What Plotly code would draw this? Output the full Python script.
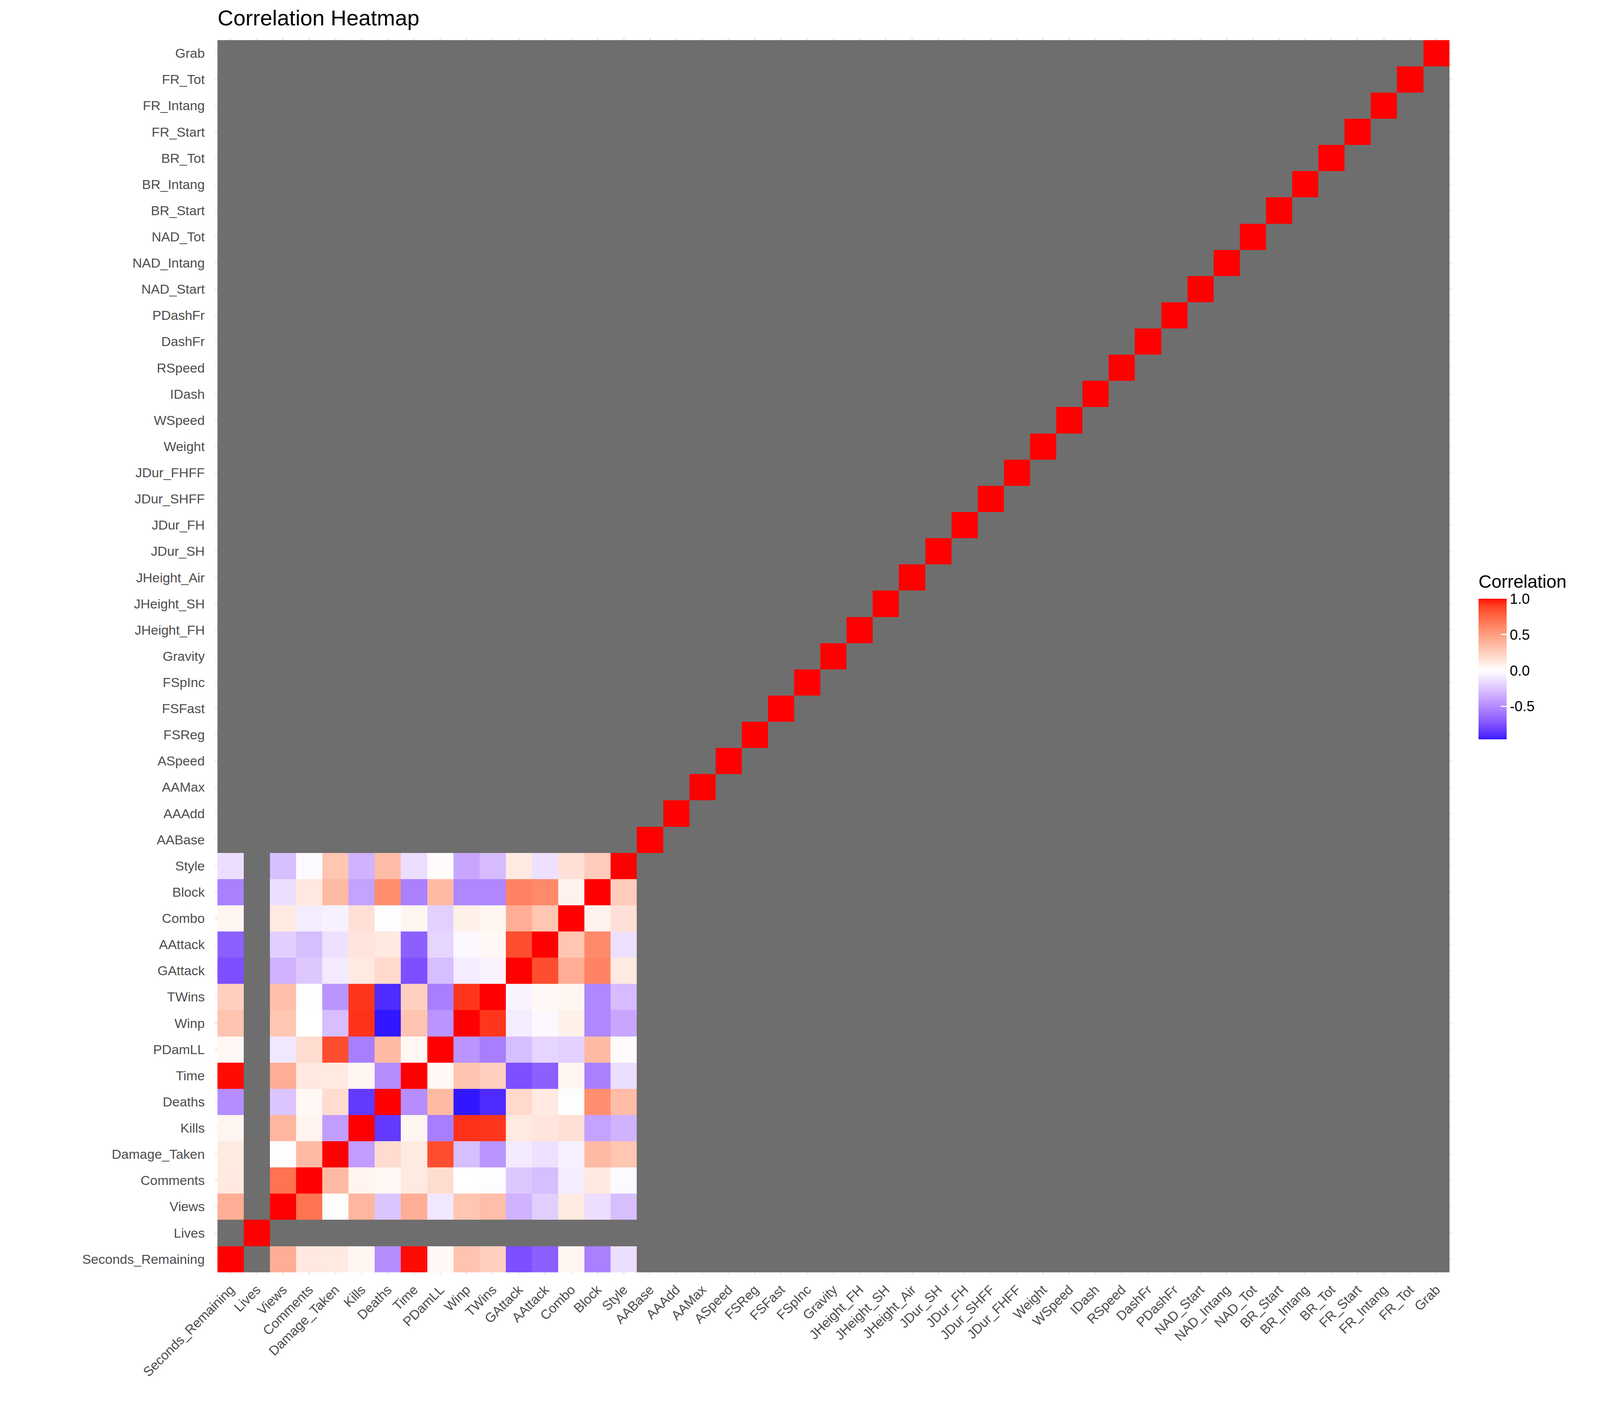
import numpy as np
import plotly.graph_objects as go

# ---------------- data ----------------
variables = [
    "Seconds_Remaining", "Lives", "Views", "Comments", "Damage_Taken", "Kills", "Deaths",
    "Time", "PDamLL", "Winp", "TWins", "GAttack", "AAttack", "Combo", "Block", "Style",
    "AABase", "AAAdd", "AAMax", "ASpeed", "FSReg", "FSFast", "FSpInc", "Gravity",
    "JHeight_FH", "JHeight_SH", "JHeight_Air", "JDur_SH", "JDur_FH", "JDur_SHFF", "JDur_FHFF",
    "Weight", "WSpeed", "IDash", "RSpeed", "DashFr", "PDashFr", "NAD_Start", "NAD_Intang",
    "NAD_Tot", "BR_Start", "BR_Intang", "BR_Tot", "FR_Start", "FR_Intang", "FR_Tot", "Grab",
]

# variables that have computable correlations with each other (Lives and the rest are NA)
core_vars = ["Seconds_Remaining", "Views", "Comments", "Damage_Taken", "Kills", "Deaths",
             "Time", "PDamLL", "Winp", "TWins", "GAttack", "AAttack", "Combo", "Block", "Style"]

# lower triangle: correlation of core_vars[i] with core_vars[0..i-1]
lower_triangle = [
    [0.42],
    [0.12, 0.70],
    [0.11, 0.01, 0.36],
    [0.05, 0.38, 0.06, -0.42],
    [-0.49, -0.25, 0.04, 0.18, -0.85],
    [0.99, 0.42, 0.12, 0.11, 0.05, -0.49],
    [0.04, -0.10, 0.18, 0.85, -0.56, 0.36, 0.04],
    [0.31, 0.30, 0.00, -0.28, 0.93, -0.96, 0.31, -0.46],
    [0.25, 0.34, -0.01, -0.46, 0.92, -0.90, 0.25, -0.56, 0.92],
    [-0.76, -0.33, -0.24, -0.09, 0.11, 0.20, -0.76, -0.28, -0.08, -0.05],
    [-0.69, -0.21, -0.28, -0.13, 0.14, 0.12, -0.69, -0.18, -0.03, 0.04, 0.85],
    [0.05, 0.11, -0.08, -0.06, 0.16, -0.01, 0.05, -0.20, 0.08, 0.05, 0.42, 0.30],
    [-0.55, -0.14, 0.12, 0.36, -0.40, 0.58, -0.55, 0.36, -0.52, -0.52, 0.63, 0.60, 0.07],
    [-0.14, -0.28, -0.02, 0.30, -0.33, 0.35, -0.14, 0.02, -0.38, -0.29, 0.11, -0.13, 0.16, 0.27],
]

legend_ticks = [-0.5, 0.0, 0.5, 1.0]
legend_tick_text = ["-0.5", "0.0", "0.5", "1.0"]

# ---------------- build matrix ----------------
n = len(variables)
idx = {v: i for i, v in enumerate(variables)}
corr = np.full((n, n), np.nan)
for i in range(n):
    corr[i, i] = 1.0
for i, row in enumerate(lower_triangle, start=1):
    for j, val in enumerate(row):
        a, b = idx[core_vars[i]], idx[core_vars[j]]
        corr[a, b] = val
        corr[b, a] = val

z_main = [[None if np.isnan(v) else float(v) for v in r] for r in corr]
z_na = [[1 if np.isnan(v) else None for v in r] for r in corr]

zmin = float(np.nanmin(corr))
zmax = float(np.nanmax(corr))

# ---------------- colour scale (ggplot gradient2, Lab interpolation) ----------------
WHITE_REF = (0.95047, 1.0, 1.08883)


def srgb_to_lab(rgb):
    c = np.array(rgb, dtype=float) / 255.0
    lin = np.where(c <= 0.04045, c / 12.92, ((c + 0.055) / 1.055) ** 2.4)
    M = np.array([[0.4124564, 0.3575761, 0.1804375],
                  [0.2126729, 0.7151522, 0.0721750],
                  [0.0193339, 0.1191920, 0.9503041]])
    xyz = M @ lin / np.array(WHITE_REF)
    f = np.where(xyz > 216 / 24389, np.cbrt(xyz), (24389 / 27 * xyz + 16) / 116)
    return np.array([116 * f[1] - 16, 500 * (f[0] - f[1]), 200 * (f[1] - f[2])])


def lab_to_srgb(lab):
    L, a, b = lab
    fy = (L + 16) / 116
    fx = fy + a / 500
    fz = fy - b / 200
    f = np.array([fx, fy, fz])
    xyz = np.where(f ** 3 > 216 / 24389, f ** 3, (116 * f - 16) / (24389 / 27)) * np.array(WHITE_REF)
    Minv = np.array([[3.2404542, -1.5371385, -0.4985314],
                     [-0.9692660, 1.8760108, 0.0415560],
                     [0.0556434, -0.2040259, 1.0572252]])
    lin = np.clip(Minv @ xyz, 0, 1)
    c = np.where(lin <= 0.0031308, 12.92 * lin, 1.055 * lin ** (1 / 2.4) - 0.055)
    c = np.clip(np.round(c * 255), 0, 255).astype(int)
    return "rgb({},{},{})".format(*c)


LAB_LOW = srgb_to_lab((0, 0, 255))
LAB_MID = srgb_to_lab((255, 255, 255))
LAB_HIGH = srgb_to_lab((255, 0, 0))
half = max(abs(zmin), abs(zmax))


def value_colour(v):
    t = abs(v) / half
    end = LAB_HIGH if v >= 0 else LAB_LOW
    return lab_to_srgb(LAB_MID + (end - LAB_MID) * t)


stops = sorted(set(list(np.linspace(zmin, zmax, 81)) + [0.0]))
colorscale = [[(v - zmin) / (zmax - zmin), value_colour(v)] for v in stops]
colorscale[0][0] = 0.0
colorscale[-1][0] = 1.0

# ---------------- figure ----------------
FONT = "Liberation Sans, Arial, sans-serif"
W, H = 4200, 3600
OFF = 8  # default page body margin
ML, MT = 550 - OFF, 96 - OFF
MR, MB = 483 + OFF, 336 + OFF
PW, PH = W - ML - MR, H - MT - MB


def px_x(px):
    return (px - OFF - ML) / PW


def px_y(py):
    return (H - (py - OFF) - MB) / PH


fig = go.Figure()
fig.add_trace(go.Heatmap(
    x=variables, y=variables, z=z_na,
    colorscale=[[0, "#6E6E6E"], [1, "#6E6E6E"]],
    showscale=False, hoverinfo="skip",
))
fig.add_trace(go.Heatmap(
    x=variables, y=variables, z=z_main,
    zmin=zmin, zmax=zmax, colorscale=colorscale,
    colorbar=dict(
        thickness=72, len=360, lenmode="pixels",
        x=px_x(3785), xanchor="left",
        y=px_y(1713), yanchor="middle",
        xpad=0, ypad=0, outlinewidth=0,
        tickvals=legend_ticks, ticktext=legend_tick_text,
        ticks="inside", ticklen=15, tickcolor="white", tickwidth=3,
        tickfont=dict(family=FONT, size=37, color="black"),
    ),
))

fig.add_annotation(
    text="Correlation", xref="paper", yref="paper",
    x=px_x(3783), y=px_y(1489), xanchor="left", yanchor="middle",
    showarrow=False, font=dict(family=FONT, size=46, color="black"),
)

axis_common = dict(
    type="category",
    range=[-0.6, n - 0.4],
    automargin=False,
    showgrid=True, gridcolor="#EBEBEB", gridwidth=4,
    zeroline=False, showline=False,
    tickcolor="rgba(0,0,0,0)",
    tickfont=dict(family=FONT, size=34, color="#4D4D4D"),
    fixedrange=True,
)

fig.update_layout(
    width=W, height=H,
    margin=dict(l=ML, r=MR, t=MT, b=MB, pad=0, autoexpand=False),
    paper_bgcolor="white", plot_bgcolor="white",
    title=dict(text="Correlation Heatmap", x=px_x(557), xref="paper",
               xanchor="left", y=1 - (45 - OFF) / H, yanchor="middle",
               font=dict(family=FONT, size=56, color="black")),
    xaxis=dict(axis_common, tickangle=-45, ticks="outside", ticklen=4),
    yaxis=dict(axis_common, ticks="outside", ticklen=18),
    font=dict(family=FONT),
)

fig.write_html("out.html")
